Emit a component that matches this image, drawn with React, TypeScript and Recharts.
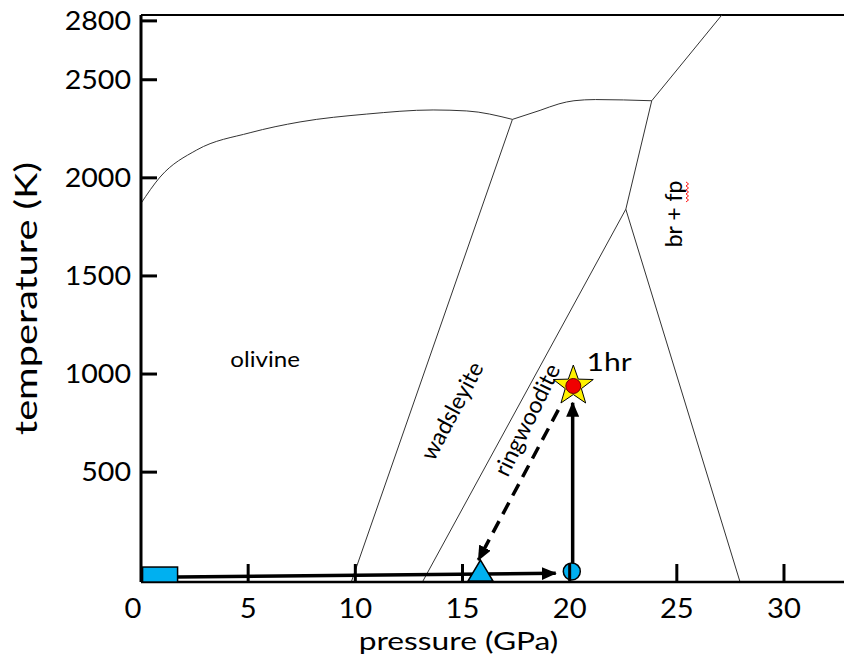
import React from 'react';
import { ComposedChart, Line, Scatter, XAxis, YAxis, ReferenceLine } from 'recharts';

const FONT = 'Lato, "Open Sans", sans-serif';

const xTicks = [0, 5, 10, 15, 20, 25, 30];
const yTicks = [500, 1000, 1500, 2000, 2500, 2800];

// phase boundaries, pressure (GPa) vs temperature (K)
const olivineMelt = [
  { x: 0, T: 1870 }, { x: 0.89, T: 2004 }, { x: 2.6, T: 2142 }, { x: 5.09, T: 2230 },
  { x: 7.42, T: 2285 }, { x: 10.53, T: 2325 }, { x: 13.63, T: 2346 }, { x: 15.2, T: 2341 },
  { x: 17.33, T: 2298 },
];
const wadsleyiteMelt = [
  { x: 17.33, T: 2298 }, { x: 18.62, T: 2344 }, { x: 19.5, T: 2377 }, { x: 20.2, T: 2393 },
  { x: 21.2, T: 2399 }, { x: 23.83, T: 2393 },
];
const highPressureMelt = [{ x: 23.83, T: 2393 }, { x: 27.1, T: 2830 }];
const ringwooditeTop = [{ x: 23.83, T: 2393 }, { x: 22.62, T: 1840 }];
const olWadBoundary = [{ x: 17.33, T: 2298 }, { x: 9.81, T: -60 }];
const wadRwBoundary = [{ x: 22.62, T: 1840 }, { x: 13.13, T: -60 }];
const rwBrBoundary = [{ x: 22.62, T: 1840 }, { x: 27.95, T: -60 }];

// experiment path
const startPoint = [{ x: 0.89, T: -22 }];
const compressedPoint = [{ x: 15.84, T: -4 }];
const targetPoint = [{ x: 20.1, T: -6 }];
const heatedPoint = [{ x: 20.17, T: 939 }];
const compressionPath = [{ x: 1.68, T: -34 }, { x: 19.35, T: -16 }];
const heatingPath = [{ x: 20.14, T: 18 }, { x: 20.14, T: 854 }];
const releasePath = [{ x: 19.47, T: 817 }, { x: 15.74, T: 52 }];

// region labels
const phaseLabels = [
  { x: 5.79, T: 1072, text: 'olivine', angle: 0 },
  { x: 14.51, T: 812, text: 'wadsleyite', angle: -62 },
  { x: 18.01, T: 766, text: 'ringwoodite', angle: -64 },
  { x: 24.87, T: 1816, text: 'br + fp', angle: -90 },
];
const timeLabels = [{ x: 21.84, T: 1061, text: '1hr' }];

const BLUE = '#00B0F0';

// text stretched sideways like the source picture
const SText = ({ x, y, sx = 1, angle = 0, children, ...rest }: any) => (
  <text transform={`translate(${x},${y}) rotate(${angle}) scale(${sx},1)`} x={0} y={0}
    fontFamily={FONT} fill="#000" {...rest}>
    {children}
  </text>
);

const YTick = ({ x, y, payload }: any) => (
  <g>
    <line x1={x} x2={x + 16} y1={y} y2={y} stroke="#000" strokeWidth={3} />
    <SText x={x - 10} y={y} sx={1.1} dy="0.36em" textAnchor="end" fontSize={26}>
      {payload.value}
    </SText>
  </g>
);

const XTick = ({ x, y, payload }: any) => (
  <g>
    {payload.value !== 0 && <line x1={x} x2={x} y1={y} y2={y - 18} stroke="#000" strokeWidth={3} />}
    <SText x={payload.value === 0 ? x - 8 : x} y={y + 36} sx={1.08} textAnchor="middle" fontSize={27}>
      {payload.value}
    </SText>
  </g>
);

const starPath = (cx: number, cy: number, R: number, r: number) => {
  const pts: string[] = [];
  for (let i = 0; i < 10; i++) {
    const rad = i % 2 === 0 ? R : r;
    const a = -Math.PI / 2 + (i * Math.PI) / 5;
    pts.push(`${cx + rad * Math.cos(a)},${cy + rad * Math.sin(a)}`);
  }
  return `M${pts.join('L')}Z`;
};

const Square = ({ cx, cy }: any) => (
  <rect x={cx - 17.5} y={cy - 7.5} width={35} height={15} fill={BLUE} stroke="#000" strokeWidth={1.5} />
);
const Triangle = ({ cx, cy }: any) => (
  <path d={`M${cx},${cy - 11} L${cx + 12.5},${cy + 10} L${cx - 12.5},${cy + 10} Z`} fill={BLUE} stroke="#000" strokeWidth={1.5} />
);
const Circle = ({ cx, cy }: any) => <circle cx={cx} cy={cy} r={8.5} fill={BLUE} stroke="#000" strokeWidth={1.5} />;
const Star = ({ cx, cy }: any) => (
  <g>
    <path d={starPath(cx, cy, 21, 8.5)} fill="#FFF200" stroke="#000" strokeWidth={1} />
    <circle cx={cx} cy={cy} r={7.5} fill="#F00000" stroke="#600" strokeWidth={1} />
  </g>
);

const PhaseLabel = ({ cx, cy, payload }: any) => {
  const flat = payload.angle === 0;
  return (
    <g transform={`rotate(${payload.angle}, ${cx}, ${cy})`}>
      <SText x={cx} y={cy} sx={flat ? 1.15 : 1} dy="0.35em" textAnchor="middle" fontSize={flat ? 21 : 23}>
        {payload.text}
      </SText>
      {payload.text === 'br + fp' && (
        <path
          d={`M${cx + 12},${cy + 12} l2,2.5 l2,-2.5 l2,2.5 l2,-2.5 l2,2.5 l2,-2.5 l2,2.5 l2,-2.5 l2,2.5 l2,-2.5`}
          fill="none"
          stroke="#FF1010"
          strokeWidth={1}
        />
      )}
    </g>
  );
};

const TimeLabel = ({ cx, cy, payload }: any) => (
  <SText x={cx} y={cy} sx={1.2} dy="0.35em" textAnchor="middle" fontSize={25}>
    {payload.text}
  </SText>
);

const boundary = { stroke: '#333', strokeWidth: 1, dot: false, isAnimationActive: false, activeDot: false };

export default function App() {
  return (
    <div style={{ position: 'absolute', left: 0, top: 0, width: 844, height: 657, background: '#fff' }}>
      <ComposedChart width={844} height={657} margin={{ top: 15, right: 0, bottom: 0, left: 0 }}>
        <defs>
          <marker id="arrowHead" viewBox="0 0 15 13" refX="14" refY="6.5" markerWidth="15" markerHeight="13"
            markerUnits="userSpaceOnUse" orient="auto">
            <path d="M0,0 L15,6.5 L0,13 Z" fill="#000" />
          </marker>
        </defs>
        <XAxis
          type="number"
          dataKey="x"
          domain={[0, 32.8]}
          ticks={xTicks}
          interval={0}
          height={75}
          tickSize={0}
          tickMargin={0}
          tickLine={false}
          tick={<XTick />}
          axisLine={{ stroke: '#000', strokeWidth: 2.5 }}
          allowDataOverflow
          label={{
            content: ({ viewBox }: any) => (
              <SText x={viewBox.x + viewBox.width / 2 - 34} y={viewBox.y + 68} sx={1.27} textAnchor="middle"
                fontSize={25}>pressure (GPa)</SText>
            ),
          }}
        />
        <YAxis
          type="number"
          dataKey="T"
          domain={[-60, 2830]}
          ticks={yTicks}
          interval={0}
          width={141}
          tickSize={0}
          tickMargin={0}
          tickLine={false}
          tick={<YTick />}
          axisLine={{ stroke: '#000', strokeWidth: 3 }}
          allowDataOverflow
          label={{
            content: ({ viewBox }: any) => (
              <SText x={viewBox.x + 37} y={viewBox.y + viewBox.height / 2} angle={-90} sx={1.28}
                textAnchor="middle" fontSize={31}>temperature (K)</SText>
            ),
          }}
        />
        <ReferenceLine y={2830} stroke="#000" strokeWidth={2} ifOverflow="visible" />

        <Line data={olivineMelt} dataKey="T" type="monotone" {...boundary} />
        <Line data={wadsleyiteMelt} dataKey="T" type="monotone" {...boundary} />
        <Line data={highPressureMelt} dataKey="T" type="linear" {...boundary} />
        <Line data={ringwooditeTop} dataKey="T" type="linear" {...boundary} />
        <Line data={olWadBoundary} dataKey="T" type="linear" {...boundary} />
        <Line data={wadRwBoundary} dataKey="T" type="linear" {...boundary} />
        <Line data={rwBrBoundary} dataKey="T" type="linear" {...boundary} />

        <Line data={compressionPath} dataKey="T" type="linear" stroke="#000" strokeWidth={3.5} dot={false}
          activeDot={false} isAnimationActive={false} markerEnd="url(#arrowHead)" />
        <Line data={heatingPath} dataKey="T" type="linear" stroke="#000" strokeWidth={3.5} dot={false}
          activeDot={false} isAnimationActive={false} markerEnd="url(#arrowHead)" />
        <Line data={releasePath} dataKey="T" type="linear" stroke="#000" strokeWidth={3.5} strokeDasharray="13 8"
          dot={false} activeDot={false} isAnimationActive={false} markerEnd="url(#arrowHead)" />

        <Scatter data={startPoint} dataKey="T" shape={<Square />} isAnimationActive={false} />
        <Scatter data={compressedPoint} dataKey="T" shape={<Triangle />} isAnimationActive={false} />
        <Scatter data={targetPoint} dataKey="T" shape={<Circle />} isAnimationActive={false} />
        <Scatter data={heatedPoint} dataKey="T" shape={<Star />} isAnimationActive={false} />

        <Scatter data={phaseLabels} dataKey="T" shape={<PhaseLabel />} isAnimationActive={false} />
        <Scatter data={timeLabels} dataKey="T" shape={<TimeLabel />} isAnimationActive={false} />
      </ComposedChart>
    </div>
  );
}
